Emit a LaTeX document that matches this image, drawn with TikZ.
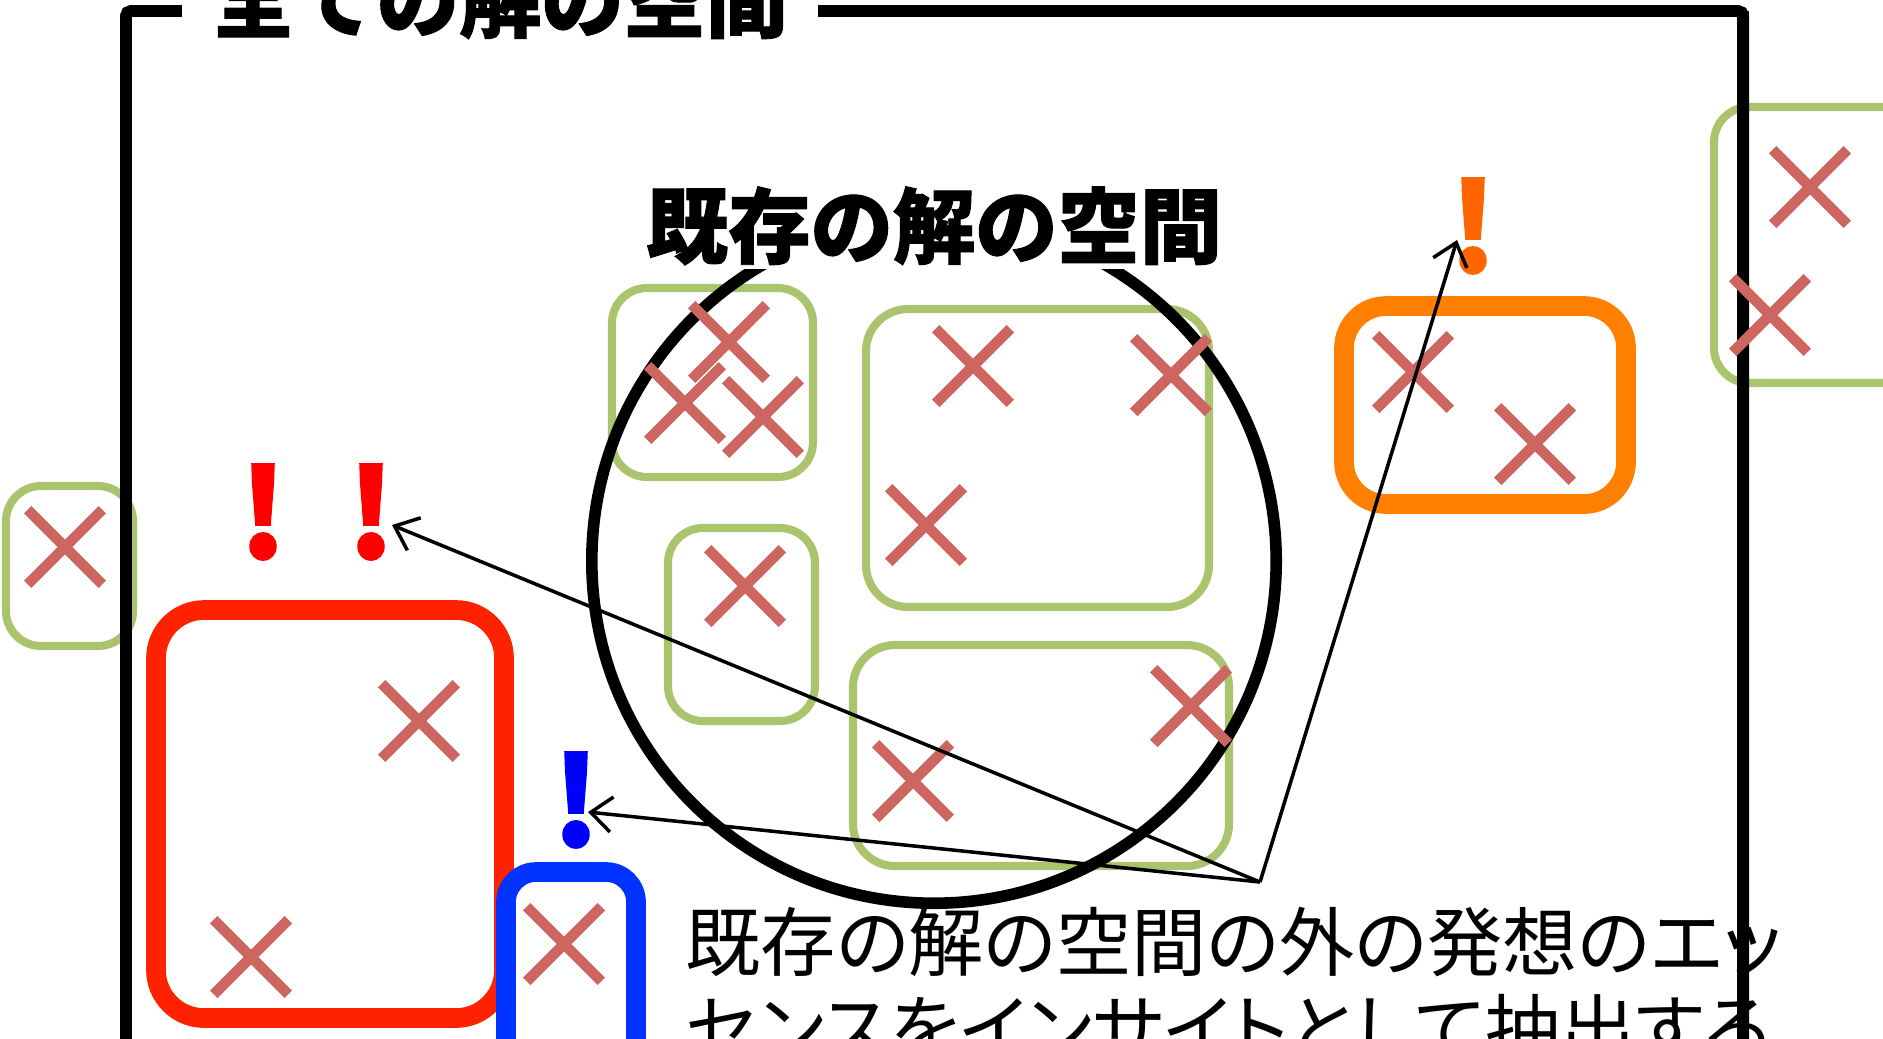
\documentclass[tikz,border=0pt]{standalone}
\usepackage{fontspec}
\newfontfamily\jp{Noto Sans CJK JP}
\newfontfamily\jpheavy[FakeBold=1.2]{Noto Sans CJK JP}
\usetikzlibrary{arrows.meta, calc, shapes.misc}

\definecolor{solgreen}{HTML}{A9C46C}
\definecolor{ideared}{HTML}{CD6660}
\definecolor{boxred}{HTML}{FF2200}
\definecolor{boxorange}{HTML}{FF8000}
\definecolor{boxblue}{HTML}{0033FF}
\definecolor{bangorange}{HTML}{FF6600}

\begin{document}
\begin{tikzpicture}[x=0.01cm, y=-0.01cm, >={Straight Barb[length=6pt,width=10pt]},
	solspace/.style={draw=solgreen, line width=2.3pt, rounded corners=0.35cm},
	insight/.style={line width=5.6pt, rounded corners=0.48cm},
	idea/.style={cross out, draw=ideared, line width=3pt, minimum size=0.64cm, inner sep=0pt},
	bang/.style={font=\jpheavy\bfseries\fontsize{35}{35}\selectfont, inner sep=0pt},
	heading/.style={font=\jpheavy\bfseries\fontsize{23.4}{23.4}\selectfont, fill=white},
	pointer/.style={->, line width=1pt}]
	
	\useasboundingbox (0,0) rectangle (1883,1038);
	\clip (0,0) rectangle (1883,1038);
	
	% --- 1. EXISTING SOLUTIONS (green groups + circle) ---
	\draw[solspace] (612,288) rectangle (813,477);
	\draw[solspace, rounded corners=0.42cm] (866,309) rectangle (1209,607);
	\draw[solspace] (668,528) rectangle (815,721);
	\draw[solspace, rounded corners=0.42cm] (853,645) rectangle (1229,866);
	\draw[solspace] (6,486) rectangle (133,646);
	\draw[solspace] (1714,107) rectangle (1960,383);
	
	\draw[line width=3.3pt] (934,561) circle[radius=3.42cm];
	
	% --- 2. THE WHOLE SPACE (frame) ---
	\draw[line width=3.4pt, rounded corners=0.05cm] (126,1100) -- (126,11) -- (1743,11) -- (1743,1100);
	
	% --- 3. INSIGHT BOXES ---
	\draw[insight, draw=boxred] (156,610) rectangle (504,1018);
	\draw[insight, draw=boxorange, rounded corners=0.42cm] (1344,306) rectangle (1626,504);
	\draw[insight, draw=boxblue, rounded corners=0.3cm] (506,872) rectangle (636,1080);
	
	% caption (proportional kana, as in the slide)
	\node[font=\jp\addfontfeature{RawFeature=+palt}\fontsize{21.4}{25}\selectfont, align=left, anchor=north west, inner sep=0pt] (caption)
	at (685,906) {既存の解の空間の外の発想のエッ\\センスをインサイトとして抽出する};
	
	% redraw the right edge of the frame over the caption
	\draw[line width=3.4pt] (1743,11) -- (1743,1100);
	
	% --- 4. SOLUTIONS (crosses) ---
	\foreach \cx/\cy [count=\i] in {729/342, 685/403, 763/417, 973/366, 1171/375, 926/525,
		745/586, 1191/706, 913/781, 1413/372, 1535/444, 1810/187, 1770/315,
		65/547, 419/721, 251/957, 564/944}
	\node[idea] (sol\i) at (\cx,\cy) {};
	
	% --- 5. HEADINGS ---
	\node[heading, inner xsep=0.3cm, anchor=base] (whole) at (500,31) {全ての解の空間};
	\node[heading, inner sep=1pt, anchor=base] (existing) at (934,257) {既存の解の空間};
	
	% --- 6. INSIGHTS (exclamation marks) ---
	\node[bang, text=red] (exRa) at (263,512) {!};
	\node[bang, text=red] (exRb) at (371,512) {!};
	\node[bang, text=blue] (exB) at (576,800) {!};
	\node[bang, text=bangorange] (exO) at (1473,226) {!};
	
	\coordinate (src) at (1260,882);
	\draw[pointer] (src) -- ($(exRb.center)+(21,13)$);
	\draw[pointer] (src) -- ($(exB.center)+(12,12)$);
	\draw[pointer] (src) -- ($(exO.center)+(-16,14)$);
	
\end{tikzpicture}
\end{document}
